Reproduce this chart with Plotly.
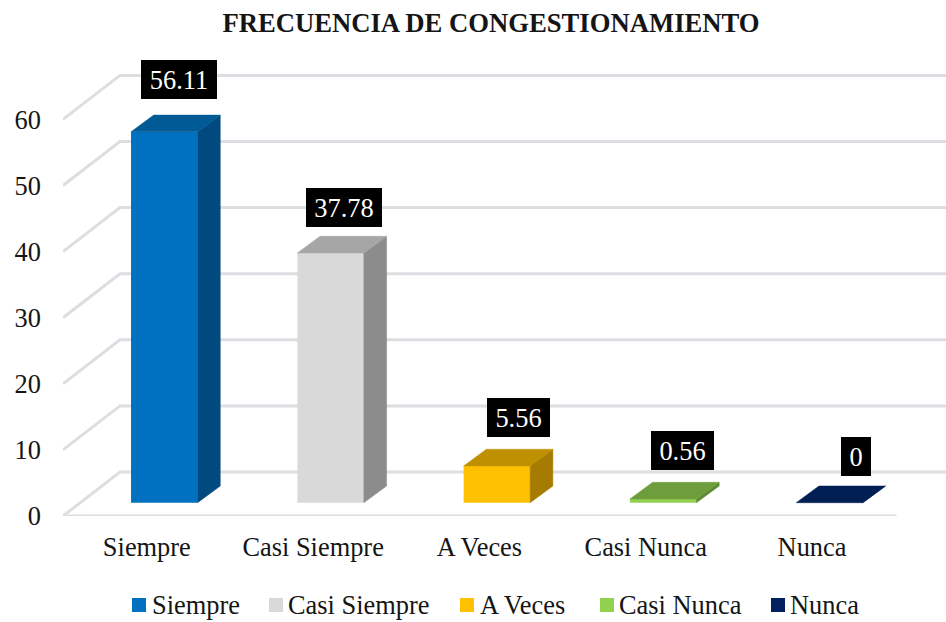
"""Frecuencia de congestionamiento: pseudo-3D column chart."""

import plotly.graph_objects as go

CATEGORIES = ["Siempre", "Casi Siempre", "A Veces", "Casi Nunca", "Nunca"]
VALUES = [56.11, 37.78, 5.56, 0.56, 0]
VALUE_LABELS = ["56.11", "37.78", "5.56", "0.56", "0"]
Y_TICKS = [0, 10, 20, 30, 40, 50, 60]

FRONT_COLORS = ["#0070C0", "#D9D9D9", "#FFC000", "#92D050", "#002060"]
TOP_COLORS = ["#005A96", "#A6A6A6", "#BF9000", "#6E9E3C", "#001F52"]
SIDE_COLORS = ["#004A80", "#8C8C8C", "#A67C00", "#5F8A33", "#001F52"]

# pixel frame of the plot area inside the 946x622 page
WIDTH, HEIGHT = 946, 622
LEFT, RIGHT, TOP, BOTTOM = 63, 946, 50, 516
PX_PER_CAT = 166.3
PX_PER_UNIT = 6.61
FIRST_BAR_PX = 164.3
BASE_PX = 502.7

X_RANGE = [(LEFT - FIRST_BAR_PX) / PX_PER_CAT, (RIGHT - FIRST_BAR_PX) / PX_PER_CAT]
Y_RANGE = [(BASE_PX - BOTTOM) / PX_PER_UNIT, (BASE_PX - TOP) / PX_PER_UNIT]

BAR_WIDTH = 0.4
DEPTH_X = 22.7 / PX_PER_CAT
DEPTH_Y = 16.7 / PX_PER_UNIT
WALL_X = 57 / PX_PER_CAT
WALL_FRONT_Y = Y_RANGE[0]
WALL_BACK_Y = (BASE_PX - 472) / PX_PER_UNIT
FLOOR_END_X = (896.7 - FIRST_BAR_PX) / PX_PER_CAT
GRID_COLOR = "#DCDEE2"
TEXT_COLOR = "#151515"
FONT = "Liberation Serif"

# label box centre relative to the top of the column, in pixels
LABEL_SHIFT_X = [15, 13, 22, 19.5, 26]
LABEL_SHIFT_Y = [52, 45, 48.5, 49, 46.5]
LABEL_BOX_WIDTH = [76, 76, 63, 63, 30]

LEGEND_SWATCH_PX = [132, 269, 460, 600, 771]
LEGEND_TEXT_PX = [152, 288, 480, 619, 790]
LEGEND_Y_PX = 605


def paper_x(px):
    return (px - LEFT) / (RIGHT - LEFT)


def paper_y(px):
    return (BOTTOM - px) / (BOTTOM - TOP)


fig = go.Figure()

# back wall and floor lines sit under the columns
for tick in Y_TICKS:
    wall_left = X_RANGE[0] + WALL_X
    back_y = tick + WALL_BACK_Y
    front_y = tick + WALL_FRONT_Y
    fig.add_shape(
        type="path",
        path=f"M {X_RANGE[0]} {front_y} L {wall_left} {back_y} L {X_RANGE[1]} {back_y}",
        line={"color": GRID_COLOR, "width": 3},
        layer="below",
    )
fig.add_shape(
    type="line",
    x0=X_RANGE[0],
    x1=FLOOR_END_X,
    y0=WALL_FRONT_Y,
    y1=WALL_FRONT_Y,
    line={"color": GRID_COLOR, "width": 3},
    layer="below",
)

for i, (name, value) in enumerate(zip(CATEGORIES, VALUES)):
    fig.add_bar(
        x=[i],
        y=[value],
        width=BAR_WIDTH,
        name=name,
        marker={"color": FRONT_COLORS[i], "line": {"width": 0}},
        showlegend=False,
    )
    right = i + BAR_WIDTH / 2
    left = i - BAR_WIDTH / 2
    fig.add_scatter(
        x=[right, right + DEPTH_X, right + DEPTH_X, right, right],
        y=[0, DEPTH_Y, value + DEPTH_Y, value, 0],
        mode="lines",
        fill="toself",
        fillcolor=SIDE_COLORS[i],
        line={"color": SIDE_COLORS[i], "width": 0.5},
        hoverinfo="skip",
        showlegend=False,
    )
    fig.add_scatter(
        x=[left, right, right + DEPTH_X, left + DEPTH_X, left],
        y=[value, value, value + DEPTH_Y, value + DEPTH_Y, value],
        mode="lines",
        fill="toself",
        fillcolor=TOP_COLORS[i],
        line={"color": TOP_COLORS[i], "width": 0.5},
        hoverinfo="skip",
        showlegend=False,
    )
    fig.add_annotation(
        x=i,
        y=value,
        text=VALUE_LABELS[i],
        showarrow=False,
        xshift=LABEL_SHIFT_X[i],
        yshift=LABEL_SHIFT_Y[i],
        width=LABEL_BOX_WIDTH[i],
        height=39,
        bgcolor="#000000",
        borderpad=0,
        borderwidth=0,
        font={"family": FONT, "size": 26.4, "color": "#FFFFFF"},
    )
    # legend row
    fig.add_shape(
        type="rect",
        xref="paper",
        yref="paper",
        x0=paper_x(LEGEND_SWATCH_PX[i]),
        x1=paper_x(LEGEND_SWATCH_PX[i] + 14),
        y0=paper_y(LEGEND_Y_PX - 7),
        y1=paper_y(LEGEND_Y_PX + 7),
        fillcolor=FRONT_COLORS[i],
        line={"width": 0},
    )
    fig.add_annotation(
        xref="paper",
        yref="paper",
        x=paper_x(LEGEND_TEXT_PX[i]),
        y=paper_y(LEGEND_Y_PX),
        text=name,
        showarrow=False,
        xanchor="left",
        yanchor="middle",
        borderpad=0,
        borderwidth=0,
        font={"family": FONT, "size": 26.4, "color": TEXT_COLOR},
    )

fig.update_layout(
    width=WIDTH,
    height=HEIGHT,
    margin={"l": LEFT, "r": WIDTH - RIGHT, "t": TOP, "b": HEIGHT - BOTTOM, "autoexpand": False},
    paper_bgcolor="#FFFFFF",
    plot_bgcolor="rgba(0,0,0,0)",
    showlegend=False,
    title={
        "text": "<b>FRECUENCIA DE CONGESTIONAMIENTO</b>",
        "x": 491 / WIDTH,
        "xanchor": "center",
        "y": 1 - 23 / HEIGHT,
        "yanchor": "middle",
        "font": {"family": FONT, "size": 26.67, "color": TEXT_COLOR},
    },
)
fig.update_xaxes(
    range=X_RANGE,
    tickmode="array",
    tickvals=[i - 0.105 for i in range(len(CATEGORIES))],
    ticktext=CATEGORIES,
    showgrid=False,
    zeroline=False,
    showline=False,
    ticks="",
    ticklabelstandoff=13,
    tickfont={"family": FONT, "size": 26.4, "color": TEXT_COLOR},
)
fig.update_yaxes(
    range=Y_RANGE,
    tickmode="array",
    tickvals=[tick + WALL_FRONT_Y for tick in Y_TICKS],
    ticktext=[str(tick) for tick in Y_TICKS],
    showgrid=False,
    zeroline=False,
    showline=False,
    ticks="",
    ticklabelstandoff=21,
    tickfont={"family": FONT, "size": 26.4, "color": TEXT_COLOR},
)

# the page's default body margin would push the chart off the 946x622 window
fig.write_html(
    "out.html",
    config={"displayModeBar": False},
    post_script="document.body.style.margin = '0';",
)
